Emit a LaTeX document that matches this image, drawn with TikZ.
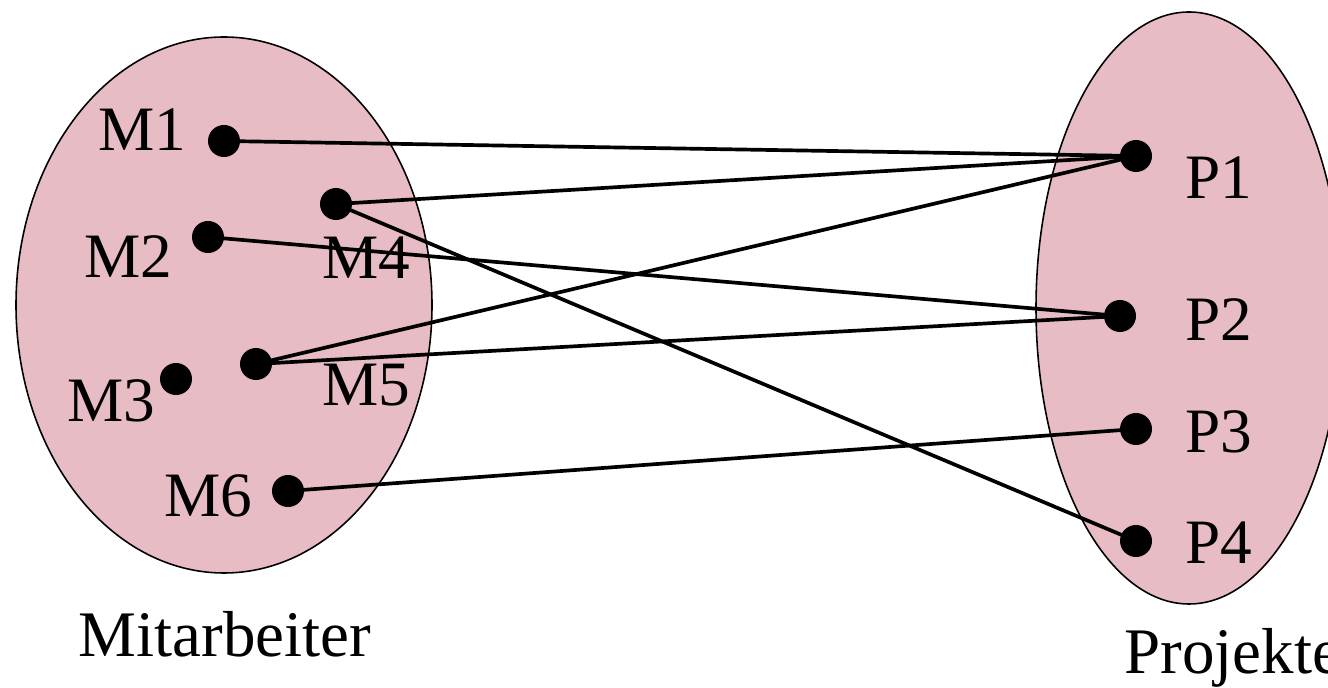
\documentclass[tikz,border=0pt]{standalone}
\usepackage{fontspec}
\setmainfont{Liberation Serif}
\usepackage{xcolor}
\usetikzlibrary{positioning}
\definecolor{setpink}{RGB}{232, 188, 196}

\tikzset{
    setshape/.style={draw=black, fill=setpink, line width=0.9pt},
    elemdot/.style={circle, fill=black, inner sep=0pt, minimum size=0.64cm},
    elemlabel/.style={font=\fontsize{36}{40}\selectfont, inner sep=0pt},
    setlabel/.style={font=\fontsize{37}{42}\selectfont, inner sep=0pt},
    relline/.style={line width=2.1pt}
}

\begin{document}
\begin{tikzpicture}[x=0.02cm, y=-0.02cm]
\useasboundingbox (0,0) rectangle (1328,688);
\clip (0,0) rectangle (1328,688);

% Sets
\draw[setshape] (224,305) ellipse (208 and 268);
\draw[setshape] (1189,308) ellipse (153 and 296);

% Elements of Mitarbeiter
\node[elemdot] (m1) at (224,141) {};
\node[elemdot] (m2) at (208,237) {};
\node[elemdot] (m3) at (176,379) {};
\node[elemdot] (m4) at (336,204) {};
\node[elemdot] (m5) at (256,364) {};
\node[elemdot] (m6) at (288,491) {};

% Elements of Projekte
\node[elemdot] (p1) at (1136,156) {};
\node[elemdot] (p2) at (1120,316) {};
\node[elemdot] (p3) at (1136,429) {};
\node[elemdot] (p4) at (1136,541) {};

% Labels
\node[elemlabel] at (142,130) {M1};
\node[elemlabel] at (128,257) {M2};
\node[elemlabel] at (111,401) {M3};
\node[elemlabel] at (366,258) {M4};
\node[elemlabel] at (366,385) {M5};
\node[elemlabel] at (208,496) {M6};
\foreach \p/\y in {1/178, 2/320, 3/432, 4/543} {
    \node[elemlabel] at (1219,\y) {P\p};
}
\node[setlabel] (mit) at (225,634) {Mitarbeiter};
\node[setlabel, anchor=west] (proj) at (1124,658) {Projekte};

% Relation
\draw[relline] (m1.center) -- (p1.center);
\draw[relline] (m4.center) -- (p1.center);
\draw[relline] (m5.center) -- (p1.center);
\draw[relline] (m2.center) -- (p2.center);
\draw[relline] (m5.center) -- (p2.center);
\draw[relline] (m6.center) -- (p3.center);
\draw[relline] (m4.center) -- (p4.center);
\end{tikzpicture}
\end{document}
